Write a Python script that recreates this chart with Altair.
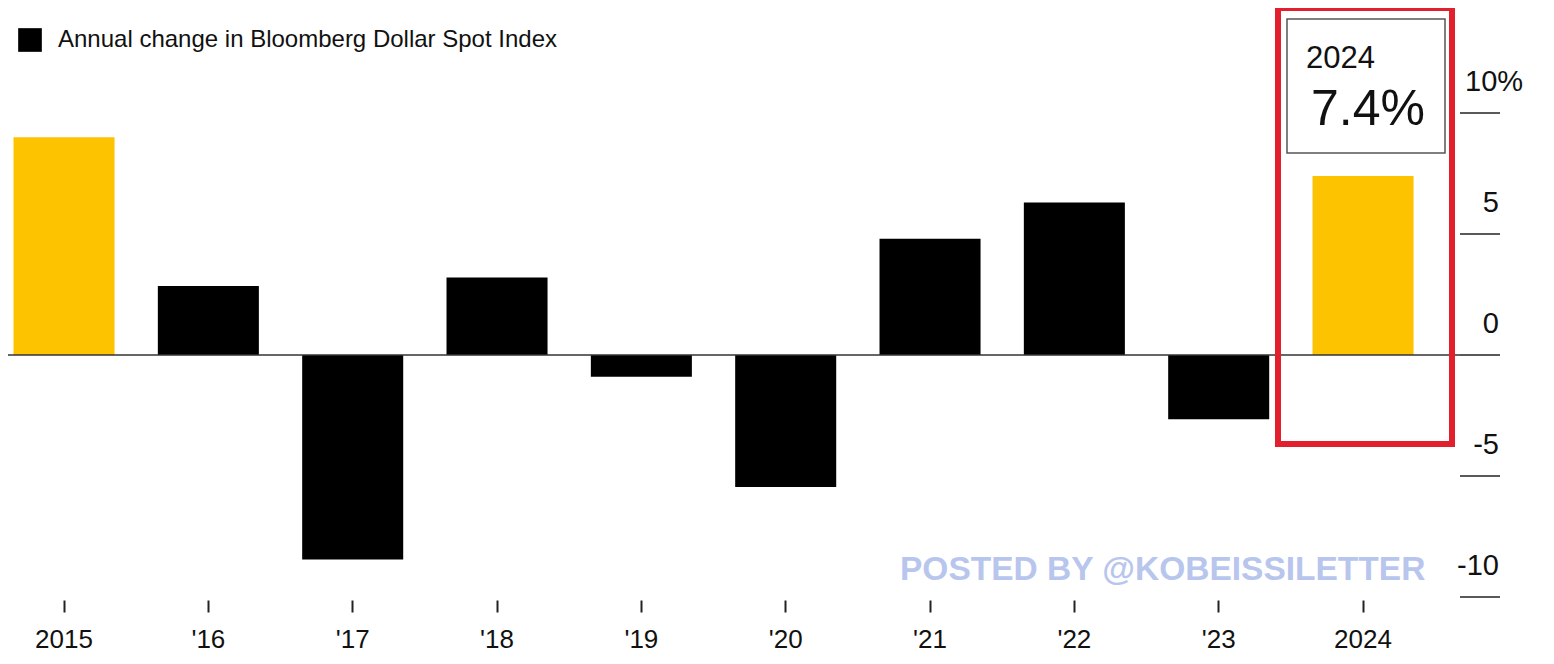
import altair as alt
import pandas as pd

# ---- data ----
years = ["2015", "'16", "'17", "'18", "'19", "'20", "'21", "'22", "'23", "2024"]
changes = [9.0, 2.85, -8.45, 3.2, -0.9, -5.45, 4.8, 6.3, -2.65, 7.4]
highlight_years = ["2015", "2024"]
y_tick_values = [10, 5, 0, -5, -10]
y_tick_labels = ["10%", "5", "0", "-5", "-10"]
legend_label = "Annual change in Bloomberg Dollar Spot Index"
callout_year = "2024"
callout_value = "7.4%"
watermark = "POSTED BY @KOBEISSILETTER"

W, H = 1452, 484
FONT = "Liberation Sans, Arial, sans-serif"
INK = "#111111"

df = pd.DataFrame({"year": years, "change": changes})
ticks_df = pd.DataFrame({"v": y_tick_values, "label": y_tick_labels})
one = pd.DataFrame({"a": [0]})

yscale = alt.Scale(domain=[-10, 10], nice=False)

bars = alt.Chart(df).mark_bar().encode(
    x=alt.X(
        "year:N",
        sort=years,
        scale=alt.Scale(paddingInner=0.3, paddingOuter=0.18, align=0.106),
        axis=alt.Axis(
            title=None, domain=False, ticks=True, tickSize=12, tickWidth=2,
            tickColor="#222222", offset=3, labelFont=FONT, labelFontSize=26,
            labelColor=INK, labelPadding=14, labelAngle=0,
        ),
    ),
    y=alt.Y("change:Q", scale=yscale, axis=None),
    color=alt.condition(
        alt.FieldOneOfPredicate(field="year", oneOf=highlight_years),
        alt.value("#FDC200"),
        alt.value("#000000"),
    ),
)

zero_line = alt.Chart(one).mark_rule(color="#333333", strokeWidth=1.5).encode(
    y=alt.datum(0, scale=yscale),
    x=alt.value(-8),
    x2=alt.value(W),
)

ytick_rules = alt.Chart(ticks_df).mark_rule(color="#222222", strokeWidth=1.5).encode(
    y=alt.Y("v:Q", scale=yscale),
    x=alt.value(W),
    x2=alt.value(W + 40),
)

ylabels_right = alt.Chart(ticks_df).transform_filter("datum.v != 10").mark_text(
    align="right", baseline="alphabetic", font=FONT, fontSize=29, color=INK, dy=-22
).encode(
    y=alt.Y("v:Q", scale=yscale),
    x=alt.value(1491),
    text="label:N",
)
ylabels_top = alt.Chart(ticks_df).transform_filter("datum.v == 10").mark_text(
    align="left", baseline="alphabetic", font=FONT, fontSize=29, color=INK, dy=-22
).encode(
    y=alt.Y("v:Q", scale=yscale),
    x=alt.value(1457),
    text="label:N",
)

legend_sq = alt.Chart(one).mark_square(size=560, color="#000000", opacity=1).encode(
    x=alt.value(22), y=alt.value(-73)
)
legend_txt = alt.Chart(one).mark_text(
    align="left", baseline="middle", font=FONT, fontSize=24, color=INK
).encode(x=alt.value(50), y=alt.value(-73), text=alt.value(legend_label))

red_box = alt.Chart(one).mark_rect(
    fillOpacity=0, stroke="#E21F2C", strokeWidth=6
).encode(x=alt.value(1270), x2=alt.value(1444), y=alt.value(-105), y2=alt.value(331))

callout_box = alt.Chart(one).mark_rect(
    fill="#ffffff", stroke="#555555", strokeWidth=1.5
).encode(x=alt.value(1279), x2=alt.value(1437), y=alt.value(-94), y2=alt.value(40))

callout_year_txt = alt.Chart(one).mark_text(
    align="left", baseline="alphabetic", font=FONT, fontSize=31, color=INK
).encode(x=alt.value(1298), y=alt.value(-45), text=alt.value(callout_year))

callout_val_txt = alt.Chart(one).mark_text(
    align="left", baseline="alphabetic", font=FONT, fontSize=50, color=INK
).encode(x=alt.value(1303), y=alt.value(12), text=alt.value(callout_value))

wm = alt.Chart(one).mark_text(
    align="left", baseline="alphabetic", font=FONT, fontSize=33.5, fontWeight="bold",
    color="#B8C6EE"
).encode(x=alt.value(892), y=alt.value(467), text=alt.value(watermark))

chart = alt.layer(
    bars, zero_line, ytick_rules, red_box, callout_box, callout_year_txt,
    callout_val_txt, ylabels_right, ylabels_top, legend_sq, legend_txt, wm,
).properties(
    width=W, height=H,
    autosize=alt.AutoSizeParams(type="none"),
    padding={"left": 0, "top": 105, "right": 86, "bottom": 59},
    background="#ffffff",
).configure_view(stroke=None)

chart.save("out.html", embed_options={"renderer": "svg", "actions": False})
